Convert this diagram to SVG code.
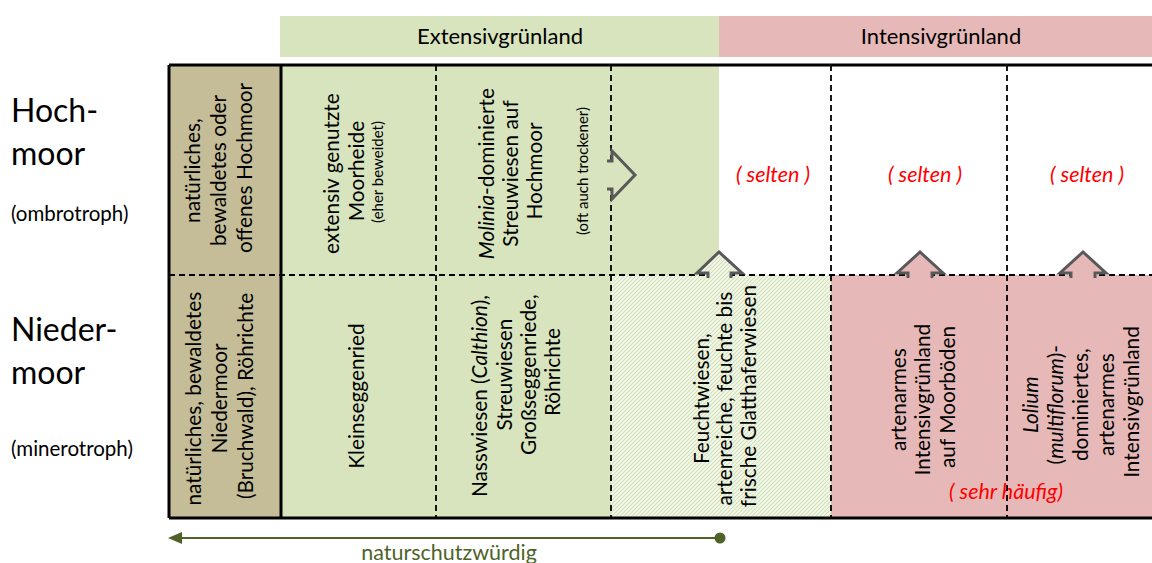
<svg xmlns="http://www.w3.org/2000/svg" width="1152" height="563" viewBox="0 0 1152 563">
  <defs>
    <pattern id="hatch" patternUnits="userSpaceOnUse" width="4" height="4">
      <rect width="4" height="4" fill="#f4f8ec"/>
      <path d="M-1,1 l2,-2 M0,4 l4,-4 M3,5 l2,-2" stroke="#d2e0b6" stroke-width="1.1"/>
    </pattern>
  </defs>
  <style>
    text { font-family: Lato, "Open Sans", "Liberation Sans", sans-serif; fill: #000; }
    .cell { font-size: 20.8px; text-anchor: middle; dominant-baseline: central; }
    .note { font-size: 15px; text-anchor: middle; dominant-baseline: central; }
    .head { font-size: 22px; text-anchor: middle; }
    .big { font-size: 32px; }
    .sub { font-size: 20.5px; }
    .rare { font-size: 21.5px; font-style: italic; fill: #ff0000; text-anchor: middle; }
    .grid-solid { stroke: #000; stroke-width: 3; fill: none; }
    .grid-dash { stroke: #000; stroke-width: 1.8; stroke-dasharray: 6 4; fill: none; }
    .move { stroke: #595959; stroke-width: 3; stroke-linejoin: miter; }
    .green { fill: #d7e4bd; }
    .pink { fill: #e6b9b8; }
    .brown { fill: #c4bd97; }
  </style>

  <rect width="1152" height="563" fill="#ffffff"/>

  <!-- column headers -->
  <g id="hdr-extensiv">
    <rect class="green" x="280" y="16" width="439" height="41"/>
    <text class="head" x="500" y="44">Extensivgrünland</text>
  </g>
  <g id="hdr-intensiv">
    <rect class="pink" x="719" y="16" width="433" height="41"/>
    <text class="head" x="941" y="44">Intensivgrünland</text>
  </g>

  <!-- row headers -->
  <g id="row-hochmoor">
    <text class="big" x="11" y="122">Hoch-</text>
    <text class="big" x="11" y="165">moor</text>
    <text class="sub" x="11" y="221">(ombrotroph)</text>
  </g>
  <g id="row-niedermoor">
    <text class="big" x="11" y="341">Nieder-</text>
    <text class="big" x="11" y="384">moor</text>
    <text class="sub" x="11" y="456">(minerotroph)</text>
  </g>

  <!-- upper row: Hochmoor -->
  <g id="hm-natural">
    <rect class="brown" x="169" y="65" width="112" height="210"/>
    <text class="cell" transform="translate(217,168) rotate(-90)">
      <tspan x="0" y="-26">natürliches,</tspan>
      <tspan x="0" y="0">bewaldetes oder</tspan>
      <tspan x="0" y="26">offenes Hochmoor</tspan>
    </text>
  </g>
  <g id="hm-moorheide">
    <rect class="green" x="281" y="65" width="155" height="210"/>
    <text class="cell" transform="translate(353,171) rotate(-90)">
      <tspan x="0" y="-23">extensiv genutzte</tspan>
      <tspan x="0" y="2">Moorheide</tspan>
    </text>
    <text class="note" transform="translate(377,172) rotate(-90)">(eher beweidet)</text>
  </g>
  <g id="hm-molinia">
    <rect class="green" x="436" y="65" width="175" height="210"/>
    <text class="cell" transform="translate(509,171) rotate(-90)">
      <tspan x="0" y="-24"><tspan font-style="italic">Molinia</tspan>-dominierte</tspan>
      <tspan x="0" y="0">Streuwiesen auf</tspan>
      <tspan x="0" y="24">Hochmoor</tspan>
    </text>
    <text class="note" transform="translate(582,171) rotate(-90)">(oft auch trockener)</text>
  </g>
  <g id="hm-feucht">
    <rect class="green" x="611" y="65" width="108" height="210"/>
    <text class="rare" x="773" y="182">( selten )</text>
  </g>
  <g id="hm-artenarm">
    <text class="rare" x="925" y="182">( selten )</text>
  </g>
  <g id="hm-lolium">
    <text class="rare" x="1087" y="182">( selten )</text>
  </g>

  <!-- lower row: Niedermoor -->
  <g id="nm-natural">
    <rect class="brown" x="169" y="275" width="112" height="243"/>
    <text class="cell" transform="translate(218,396) rotate(-90)">
      <tspan x="0" y="-26">natürliches, bewaldetes</tspan>
      <tspan x="0" y="0">Niedermoor</tspan>
      <tspan x="0" y="26">(Bruchwald), Röhrichte</tspan>
    </text>
  </g>
  <g id="nm-kleinseggen">
    <rect class="green" x="281" y="275" width="155" height="243"/>
    <text class="cell" transform="translate(355,396) rotate(-90)">Kleinseggenried</text>
  </g>
  <g id="nm-nasswiesen">
    <rect class="green" x="436" y="275" width="175" height="243"/>
    <text class="cell" transform="translate(515,396) rotate(-90)">
      <tspan x="0" y="-37">Nasswiesen (<tspan font-style="italic">Calthion</tspan>),</tspan>
    </text>
    <text class="cell" transform="translate(515,372) rotate(-90)">
      <tspan x="0" y="-12">Streuwiesen</tspan>
      <tspan x="0" y="12">Großseggenriede,</tspan>
      <tspan x="0" y="36">Röhrichte</tspan>
    </text>
  </g>
  <g id="nm-feuchtwiesen">
    <rect fill="url(#hatch)" x="611" y="275" width="220" height="243"/>
    <text class="cell" transform="translate(723,396) rotate(-90)">
      <tspan x="0" y="-23">Feuchtwiesen,</tspan>
      <tspan x="0" y="0">artenreiche, feuchte bis</tspan>
      <tspan x="0" y="24">frische Glatthaferwiesen</tspan>
    </text>
  </g>
  <g id="nm-artenarm">
    <rect class="pink" x="831" y="275" width="176" height="243"/>
    <text class="cell" transform="translate(921,397) rotate(-90)">
      <tspan x="0" y="-24">artenarmes</tspan>
      <tspan x="0" y="0">Intensivgrünland</tspan>
      <tspan x="0" y="25">auf Moorböden</tspan>
    </text>
  </g>
  <g id="nm-lolium">
    <rect class="pink" x="1007" y="275" width="145" height="243"/>
    <text class="cell" transform="translate(1079,402) rotate(-90)">
      <tspan x="0" y="-50" font-style="italic">Lolium</tspan>
      <tspan x="0" y="-25">(<tspan font-style="italic">multiflorum</tspan>)-</tspan>
      <tspan x="0" y="0">dominiertes,</tspan>
      <tspan x="0" y="26">artenarmes</tspan>
      <tspan x="0" y="51">Intensivgrünland</tspan>
    </text>
  </g>
  <text class="rare" x="1006" y="499">( sehr häufig)</text>

  <!-- table grid -->
  <g id="grid">
    <path class="grid-dash" d="M169,275 H1152 M436,65 V518 M611,65 V518 M831,65 V518 M1007,65 V518"/>
    <path class="grid-solid" d="M169,65 H1152 M169,518 H1152 M169,65 V518 M281,65 V518"/>
  </g>

  <!-- transitions between land-use types -->
  <g id="connectors">
    <path class="move" fill="#d7e4bd" d="M607,161 H612 V151 L635,175 L612,199 V189 H607"/>
    <path class="move" fill="url(#hatch)" d="M708,278 V273 H697 L719,252 L742,273 H731 V278"/>
    <path class="move" fill="#e6b9b8" d="M908,278 V273 H897 L920,252 L943,273 H932 V278"/>
    <path class="move" fill="#e6b9b8" d="M1071,278 V273 H1060 L1083,252 L1106,273 H1095 V278"/>
    <g id="naturschutz">
      <line x1="180" y1="538" x2="720" y2="538" stroke="#4f6228" stroke-width="2"/>
      <path d="M168,538 L182,532 L182,544 Z" fill="#4f6228"/>
      <circle cx="720" cy="538" r="5.5" fill="#4f6228"/>
      <text x="449" y="560" style="font-size:21.5px; fill:#4f6228; text-anchor:middle">naturschutzwürdig</text>
    </g>
  </g>
</svg>
